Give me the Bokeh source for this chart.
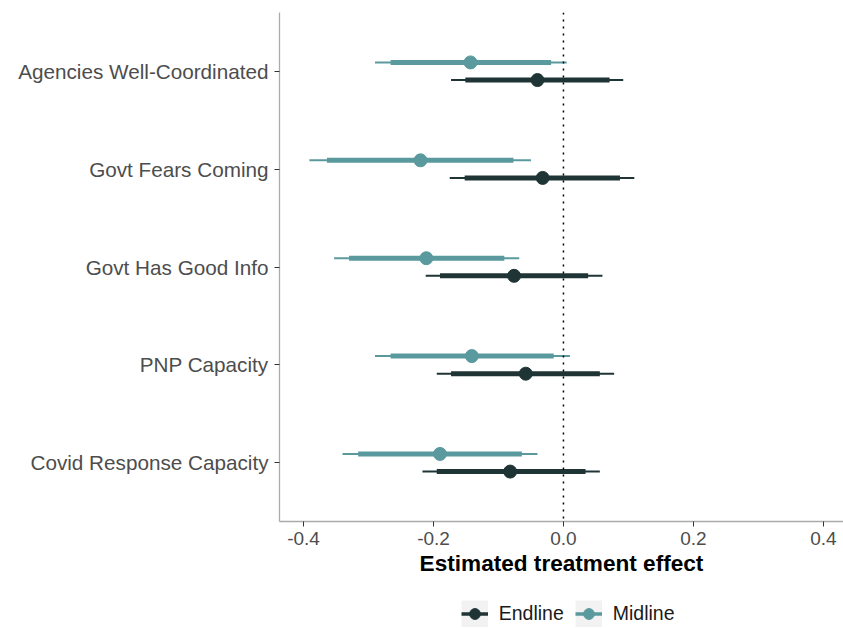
import numpy as np
from bokeh.plotting import figure
from bokeh.layouts import column
from bokeh.models import (Range1d, FixedTicker, Span, Legend, LegendItem,
                          ColumnDataSource)
from bokeh.embed import file_html
from bokeh.resources import INLINE

# ---------------- data ----------------
categories = ["Agencies Well-Coordinated", "Govt Fears Coming",
              "Govt Has Good Info", "PNP Capacity", "Covid Response Capacity"]

endline_est = [-0.040, -0.032, -0.076, -0.058, -0.082]
endline_lo95 = [-0.173, -0.175, -0.212, -0.195, -0.217]
endline_hi95 = [0.092, 0.109, 0.060, 0.078, 0.056]
endline_lo90 = [-0.151, -0.152, -0.190, -0.173, -0.195]
endline_hi90 = [0.071, 0.087, 0.038, 0.056, 0.034]

midline_est = [-0.143, -0.220, -0.211, -0.141, -0.190]
midline_lo95 = [-0.290, -0.391, -0.353, -0.290, -0.340]
midline_hi95 = [0.005, -0.050, -0.068, 0.010, -0.040]
midline_lo90 = [-0.266, -0.364, -0.330, -0.266, -0.316]
midline_hi90 = [-0.019, -0.077, -0.091, -0.015, -0.064]

series_names = ["Endline", "Midline"]
x_ticks = [-0.4, -0.2, 0.0, 0.2, 0.4]

ENDLINE_COLOR = "#1f3535"
MIDLINE_COLOR = "#5a9a9e"
FONT = "Liberation Sans"

n = len(categories)
cat_pos = [n - i for i in range(n)]  # top category highest
dodge = 0.09

p = figure(width=843, height=585, output_backend="svg", toolbar_location=None,
           x_range=Range1d(-0.437, 0.431), y_range=Range1d(0.4, 5.6),
           min_border_left=279, min_border_right=0, min_border_top=12,
           min_border_bottom=64)
p.outline_line_color = None
p.xgrid.visible = False
p.ygrid.visible = False
p.background_fill_color = "white"
p.border_fill_color = "white"

zero = Span(location=0, dimension="height", line_color="black",
            line_width=1.5, line_dash="2 5")
p.add_layout(zero)

series = [
    (endline_est, endline_lo95, endline_hi95, endline_lo90, endline_hi90, ENDLINE_COLOR, -dodge),
    (midline_est, midline_lo95, midline_hi95, midline_lo90, midline_hi90, MIDLINE_COLOR, dodge),
]
for est, lo95, hi95, lo90, hi90, color, off in series:
    ys = [c + off for c in cat_pos]
    src = ColumnDataSource(dict(y=ys, est=est, lo95=lo95, hi95=hi95,
                                lo90=lo90, hi90=hi90))
    p.segment(x0="lo95", x1="hi95", y0="y", y1="y", source=src,
              line_color=color, line_width=2)
    p.segment(x0="lo90", x1="hi90", y0="y", y1="y", source=src,
              line_color=color, line_width=5)
    p.scatter(x="est", y="y", source=src, size=13, fill_color=color,
              line_color=color)

# axes
p.xaxis.ticker = FixedTicker(ticks=x_ticks)
p.xaxis.major_label_overrides = {t: f"{t:.1f}" for t in x_ticks}
p.yaxis.ticker = FixedTicker(ticks=cat_pos)
p.yaxis.major_label_overrides = {c: name for c, name in zip(cat_pos, categories)}

for ax in (p.xaxis[0], p.yaxis[0]):
    ax.axis_line_color = "#ababab"
    ax.axis_line_width = 1.3
    ax.major_tick_line_color = "#333333"
    ax.major_tick_line_width = 1
    ax.major_tick_in = 0
    ax.major_tick_out = 5
    ax.minor_tick_line_color = None
    ax.major_label_text_font = FONT
    ax.major_label_text_color = "#4d4d4d"

p.yaxis.major_label_text_font_size = "20.7px"
p.yaxis.major_label_standoff = 6
p.xaxis.major_label_text_font_size = "19px"
p.xaxis.major_label_standoff = 5
p.xaxis.axis_label = "Estimated treatment effect"
p.xaxis.axis_label_text_font = FONT
p.xaxis.axis_label_text_font_size = "22.6px"
p.xaxis.axis_label_text_font_style = "bold"
p.xaxis.axis_label_text_color = "black"
p.xaxis.axis_label_standoff = 3

# ---------------- legend strip (separate figure below) ----------------
# (column layout aligns this strip's frame with the main plot's frame)
lg = figure(width=843, height=43, output_backend="svg", toolbar_location=None,
            x_range=Range1d(0, 1), y_range=Range1d(0, 1),
            x_axis_location=None, y_axis_location=None, min_border=0)
lg.outline_line_color = None
lg.xgrid.visible = False
lg.ygrid.visible = False
items = []
for name, color in zip(series_names, [ENDLINE_COLOR, MIDLINE_COLOR]):
    bg = lg.line(x=[np.nan], y=[np.nan], line_color="#f2f2f2", line_width=27,
                 line_cap="butt")
    ln = lg.line(x=[np.nan], y=[np.nan], line_color=color, line_width=3.5,
                 line_cap="butt")
    pt = lg.scatter(x=[np.nan], y=[np.nan], size=13, fill_color=color,
                    line_color=color)
    items.append(LegendItem(label=name, renderers=[bg, ln, pt]))

legend = Legend(items=items, location=(181.7, 1),
                orientation="horizontal", glyph_width=27, glyph_height=27,
                label_standoff=11, spacing=11, padding=0, margin=0,
                border_line_color=None, background_fill_alpha=0,
                label_text_font=FONT, label_text_font_size="19.5px",
                label_text_color="#1a1a1a", label_height=27)
lg.add_layout(legend)

layout = column(p, lg, spacing=0)
open("out.html", "w").write(file_html(layout, INLINE))
